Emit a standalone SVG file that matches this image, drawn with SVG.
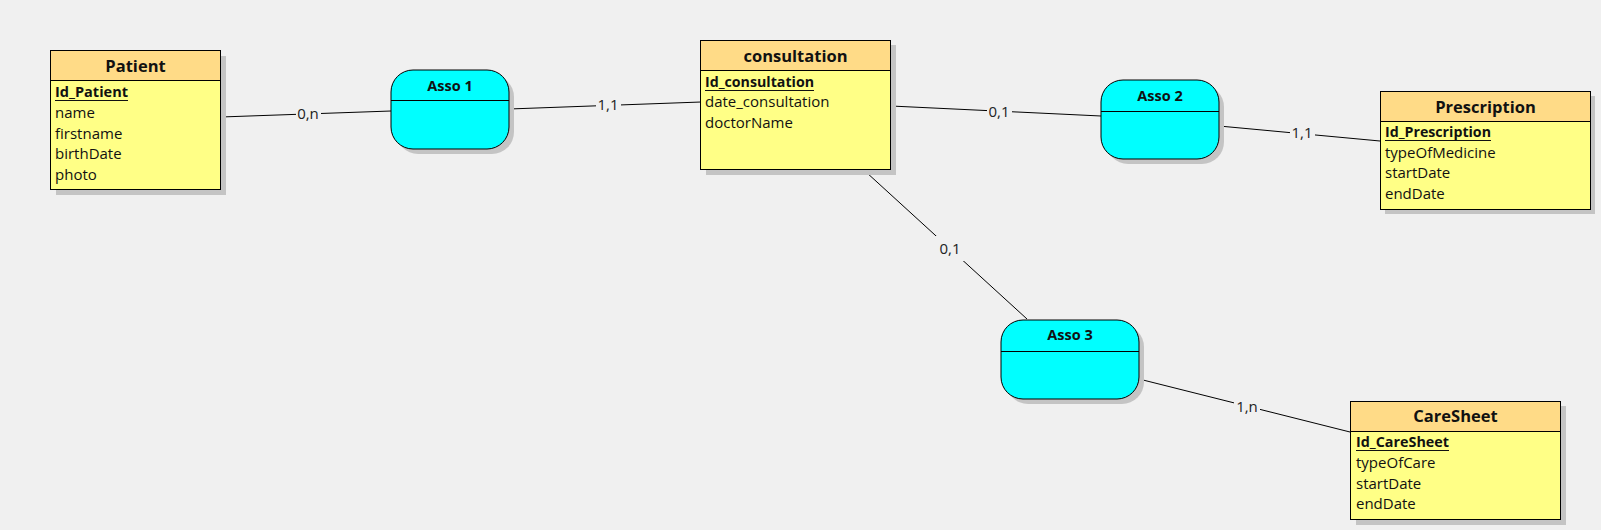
<svg xmlns="http://www.w3.org/2000/svg" width="1601" height="530" viewBox="0 0 1601 530">
<style>
.bg{fill:#f0f0f0}
.shadow{fill:#c4c4c4}
.head{fill:#ffdb87;stroke:#000;stroke-width:1}
.body{fill:#ffff86;stroke:#000;stroke-width:1}
.asso{fill:#00ffff;stroke:#000;stroke-width:1}
.div{stroke:#000;stroke-width:1}
.ul{stroke:#111;stroke-width:1.2}
.title{font-family:"Open Sans","Noto Sans",sans-serif;font-weight:bold;font-size:16.5px;fill:#111;text-anchor:middle}
.atitle{font-family:"Open Sans","Noto Sans",sans-serif;font-weight:bold;font-size:14.5px;fill:#111;text-anchor:middle}
.attr{font-family:"Open Sans","Noto Sans",sans-serif;font-size:15px;fill:#111}
.key{font-family:"Open Sans","Noto Sans",sans-serif;font-size:15px;font-weight:bold;fill:#111}
.link{stroke:#000;stroke-width:1;fill:none}
.lbl{font-family:"Open Sans","Noto Sans",sans-serif;font-size:15px;fill:#222;text-anchor:middle}
.lblbg{fill:#f0f0f0}
</style>
<rect class="bg" x="0" y="0" width="1601" height="530"/>

<g id="connectors">
<line class="link" x1="221" y1="117" x2="391" y2="111"/>
<line class="link" x1="509" y1="109" x2="701" y2="102"/>
<line class="link" x1="891" y1="106" x2="1101" y2="116"/>
<line class="link" x1="1219" y1="126" x2="1380" y2="141"/>
<line class="link" x1="866" y1="172" x2="1027" y2="319"/>
<line class="link" x1="1139" y1="379" x2="1350" y2="432"/>
<rect class="lblbg" x="296" y="104" width="25" height="17"/>
<text class="lbl" x="308" y="119">0,n</text>
<rect class="lblbg" x="596" y="96" width="25" height="17"/>
<text class="lbl" x="608" y="110">1,1</text>
<rect class="lblbg" x="987" y="102" width="25" height="17"/>
<text class="lbl" x="999" y="117">0,1</text>
<rect class="lblbg" x="1290" y="123" width="25" height="17"/>
<text class="lbl" x="1302" y="138">1,1</text>
<rect class="lblbg" x="936" y="236" width="28" height="25"/>
<text class="lbl" x="950" y="254">0,1</text>
<rect class="lblbg" x="1234" y="397" width="26" height="17"/>
<text class="lbl" x="1247" y="412">1,n</text>
</g>

<g id="patient">
<rect class="shadow" x="56" y="56" width="170" height="139"/>
<rect class="body" x="50.5" y="50.5" width="170" height="139"/>
<rect class="head" x="50.5" y="50.5" width="170" height="30"/>
<text class="title" x="135.5" y="72">Patient</text>
<text class="key" x="55" y="97" textLength="73" lengthAdjust="spacingAndGlyphs">Id_Patient</text>
<line class="ul" x1="55" y1="100.5" x2="128" y2="100.5"/>
<text class="attr" x="55" y="118">name</text>
<text class="attr" x="55" y="139">firstname</text>
<text class="attr" x="55" y="159">birthDate</text>
<text class="attr" x="55" y="180">photo</text>
</g>

<g id="asso1">
<rect class="shadow" x="396" y="75" width="118" height="79" rx="22" ry="22"/>
<rect class="asso" x="391" y="70" width="118" height="79" rx="22" ry="22"/>
<line class="div" x1="391" y1="100.5" x2="509" y2="100.5"/>
<text class="atitle" x="450" y="91">Asso 1</text>
</g>

<g id="consultation">
<rect class="shadow" x="706" y="45" width="190" height="130"/>
<rect class="body" x="700.5" y="40.5" width="190" height="129"/>
<rect class="head" x="700.5" y="40.5" width="190" height="30"/>
<text class="title" x="795.5" y="62">consultation</text>
<text class="key" x="705" y="87" textLength="109" lengthAdjust="spacingAndGlyphs">Id_consultation</text>
<line class="ul" x1="705" y1="90.5" x2="814" y2="90.5"/>
<text class="attr" x="705" y="107">date_consultation</text>
<text class="attr" x="705" y="128">doctorName</text>
</g>

<g id="asso2">
<rect class="shadow" x="1106" y="85" width="118" height="79" rx="22" ry="22"/>
<rect class="asso" x="1101" y="80" width="118" height="79" rx="22" ry="22"/>
<line class="div" x1="1101" y1="111.5" x2="1219" y2="111.5"/>
<text class="atitle" x="1160" y="101">Asso 2</text>
</g>

<g id="prescription">
<rect class="shadow" x="1385" y="96" width="210" height="118"/>
<rect class="body" x="1380.5" y="91.5" width="210" height="118"/>
<rect class="head" x="1380.5" y="91.5" width="210" height="30"/>
<text class="title" x="1485.5" y="113">Prescription</text>
<text class="key" x="1385" y="137" textLength="106" lengthAdjust="spacingAndGlyphs">Id_Prescription</text>
<line class="ul" x1="1385" y1="140.5" x2="1491" y2="140.5"/>
<text class="attr" x="1385" y="158">typeOfMedicine</text>
<text class="attr" x="1385" y="178">startDate</text>
<text class="attr" x="1385" y="199">endDate</text>
</g>

<g id="asso3">
<rect class="shadow" x="1006" y="325" width="138" height="79" rx="22" ry="22"/>
<rect class="asso" x="1001" y="320" width="138" height="79" rx="22" ry="22"/>
<line class="div" x1="1001" y1="351.5" x2="1139" y2="351.5"/>
<text class="atitle" x="1070" y="340">Asso 3</text>
</g>

<g id="caresheet">
<rect class="shadow" x="1356" y="406" width="210" height="119"/>
<rect class="body" x="1350.5" y="401.5" width="210" height="118"/>
<rect class="head" x="1350.5" y="401.5" width="210" height="30"/>
<text class="title" x="1455.5" y="422">CareSheet</text>
<text class="key" x="1356" y="447" textLength="93" lengthAdjust="spacingAndGlyphs">Id_CareSheet</text>
<line class="ul" x1="1356" y1="450.5" x2="1449" y2="450.5"/>
<text class="attr" x="1356" y="468">typeOfCare</text>
<text class="attr" x="1356" y="489">startDate</text>
<text class="attr" x="1356" y="509">endDate</text>
</g>
</svg>
